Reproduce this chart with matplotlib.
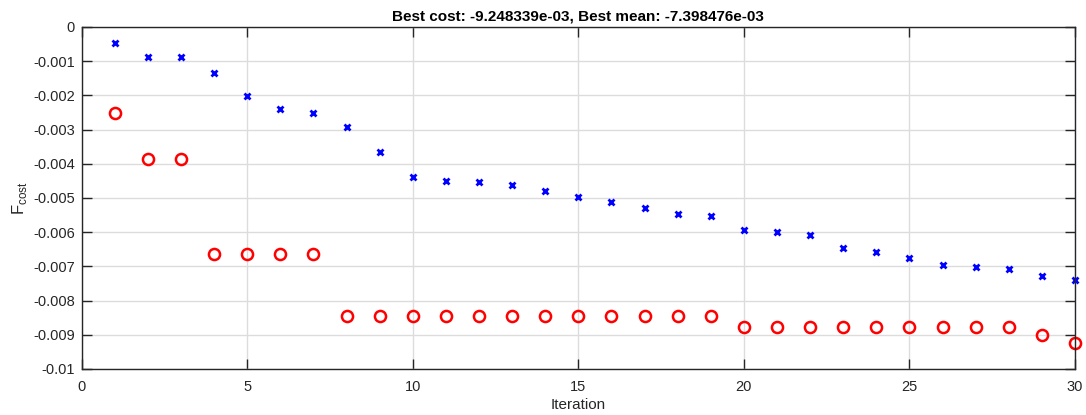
import matplotlib.pyplot as plt
import numpy as np

plt.rcParams['font.family'] = ['Liberation Sans', 'DejaVu Sans']
plt.rcParams['axes.unicode_minus'] = False

iteraciones = np.arange(1, 31)

# costo medio de cada iteracion
media = [-0.00046, -0.00089, -0.00089, -0.00135, -0.00201, -0.00239, -0.00253,
         -0.00293, -0.00366, -0.00439, -0.00451, -0.00454, -0.00462, -0.00479,
         -0.00497, -0.00512, -0.00530, -0.00546, -0.00553, -0.00594, -0.00600,
         -0.00607, -0.00646, -0.00658, -0.00676, -0.00696, -0.00702, -0.00707,
         -0.00728, -0.007398476]

# mejor costo encontrado hasta cada iteracion
mejor = [-0.00253, -0.00387, -0.00387, -0.00663, -0.00663, -0.00663, -0.00663,
         -0.00844, -0.00844, -0.00844, -0.00844, -0.00844, -0.00844, -0.00844,
         -0.00844, -0.00844, -0.00844, -0.00844, -0.00844, -0.00877, -0.00877,
         -0.00877, -0.00877, -0.00877, -0.00877, -0.00877, -0.00877, -0.00877,
         -0.00900, -0.009248339]

gris = '#262626'

fig = plt.figure(figsize=(10.86, 4.15), dpi=100)
ax = fig.add_axes([0.0752, 0.111, 0.9147, 0.824])

ax.plot(iteraciones, media, 'x', color='blue', markersize=5, markeredgewidth=2,
        clip_on=False)
ax.plot(iteraciones, mejor, 'o', color='red', markersize=8, markerfacecolor='none',
        markeredgewidth=1.8, clip_on=False)

ax.set_xlim(0, 30)
ax.set_ylim(-0.01, 0)
ax.set_xticks(np.arange(0, 31, 5))
ax.set_yticks(np.arange(-0.01, 0.0001, 0.001))
ax.set_yticklabels(['-0.01', '-0.009', '-0.008', '-0.007', '-0.006', '-0.005',
                    '-0.004', '-0.003', '-0.002', '-0.001', '0'])

ax.grid(True, color='#dcdcdc', linewidth=1)
ax.set_axisbelow(True)
ax.tick_params(direction='in', length=7, width=1, top=True, right=True,
               labelsize=10.5, colors=gris)
ax.tick_params(axis='x', pad=8)
ax.tick_params(axis='y', pad=5)
for s in ax.spines.values():
    s.set_color(gris)
    s.set_linewidth(1)

ax.set_xlabel('Iteration', fontsize=11, color=gris, labelpad=3)
ax.set_ylabel(r'F$_{\mathregular{cost}}$', fontsize=12, color=gris, labelpad=3)
ax.set_title('Best cost: -9.248339e-03, Best mean: -7.398476e-03',
             fontsize=11, fontweight='bold', color='black', pad=5)

fig.savefig('out.png', dpi=100)
